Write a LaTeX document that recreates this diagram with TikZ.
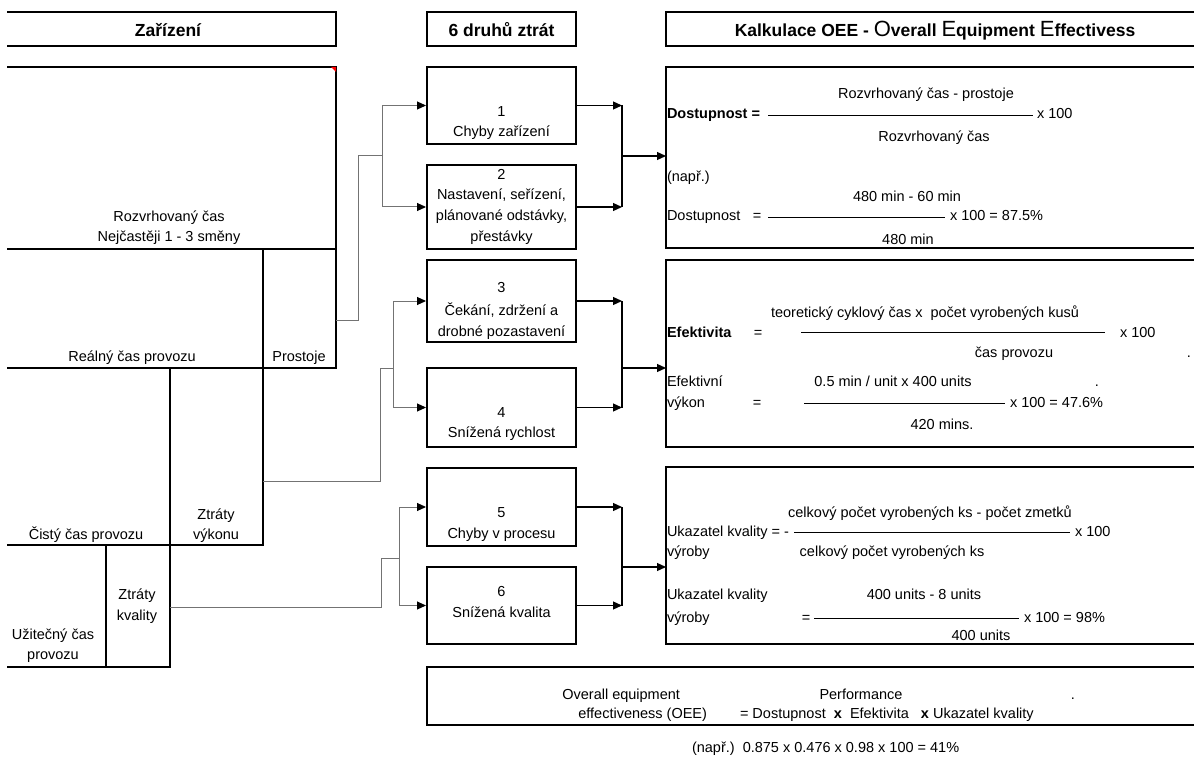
\documentclass[tikz,border=0pt]{standalone}
\usepackage{fontspec}
\setmainfont{Liberation Sans}
\usetikzlibrary{arrows.meta}
\newcommand\fs{\fontsize{14.5}{17}\selectfont}
\newcommand\fhead{\fontsize{17.5}{20}\selectfont\bfseries}
\newcommand\fbig{\fontsize{22}{24}\selectfont\mdseries}
\begin{document}
\begin{tikzpicture}[x=1pt,y=-1pt,
  frame/.style={line width=2pt,line cap=rect},
  split/.style={line width=1.7pt,line cap=rect},
  conn/.style={line width=1pt,draw=black!55},
  outc/.style={line width=1.2pt,draw=black},
  arr/.style={-{Triangle[length=9pt,width=8pt,color=black]}},
  lbl/.style={inner sep=0pt,outer sep=0pt,font=\fs,anchor=base},
  lw/.style={lbl,anchor=base west},
  le/.style={lbl,anchor=base east},
  lossbox/.style={draw,line width=2pt,minimum width=149pt,inner sep=0pt},
  calcbox/.style={inner sep=0pt,outer sep=0pt,minimum width=528pt},
  frac/.style={line width=0.9pt}]
\useasboundingbox (0,0) rectangle (1194,762);

% ---------- column headings ----------
\draw[frame] (8,12) -- (336,12) -- (336,46) -- (8,46);
\node[lbl,font=\fhead] (hzar) at (168,37) {Zařízení};
\node[lossbox,minimum height=34pt] (hloss) at (501.5,29) {};
\node[lbl,font=\fhead] (hlosst) at (501.5,37) {6 druhů ztrát};
\draw[frame] (1194,12) -- (666,12) -- (666,46) -- (1194,46);
\node[lbl,font=\fhead] (hcalc) at (935,37)
  {Kalkulace OEE - {\fbig O}verall {\fbig E}quipment {\fbig E}ffectivess};

% ---------- time breakdown of the equipment ----------
\draw[frame] (8,67) -- (336,67) -- (336,368);
\fill[red] (331,67) -- (336,67) -- (336,72) -- cycle;
\draw[frame] (8,249) -- (336,249);
\draw[frame] (8,368) -- (336,368);
\draw[split] (263,249) -- (263,545);
\draw[frame] (8,545) -- (263,545);
\draw[split] (170,368) -- (170,667);
\draw[frame] (8,667) -- (170,667);
\draw[split] (106,545) -- (106,667);

\node[lbl] (t1a) at (169,222) {Rozvrhovaný čas};
\node[lbl] (t1b) at (169,242) {Nejčastěji 1 - 3 směny};
\node[lbl] (t2) at (132,361) {Reálný čas provozu};
\node[lbl] (t3) at (299,361) {Prostoje};
\node[lbl] (t4a) at (216,519) {Ztráty};
\node[lbl] (t4b) at (216,539) {výkonu};
\node[lbl] (t5) at (86,539) {Čistý čas provozu};
\node[lbl] (t6a) at (137,599) {Ztráty};
\node[lbl] (t6b) at (137,620) {kvality};
\node[lbl] (t7a) at (53,639) {Užitečný čas};
\node[lbl] (t7b) at (53,659) {provozu};

% ---------- the six losses ----------
\node[lossbox,minimum height=77pt] (b1) at (501.5,105.5) {};
\node[lossbox,minimum height=84pt] (b2) at (501.5,207) {};
\node[lossbox,minimum height=82pt] (b3) at (501.5,301) {};
\node[lossbox,minimum height=79pt] (b4) at (501.5,407.5) {};
\node[lossbox,minimum height=78pt] (b5) at (501.5,507) {};
\node[lossbox,minimum height=77pt] (b6) at (501.5,605.5) {};

\node[lbl] (b1a) at (501.5,117) {1};
\node[lbl] (b1b) at (501.5,137) {Chyby zařízení};
\node[lbl] (b2a) at (501.5,180) {2};
\node[lbl] (b2b) at (501.5,200) {Nastavení, seřízení,};
\node[lbl] (b2c) at (501.5,221) {plánované odstávky,};
\node[lbl] (b2d) at (501.5,241) {přestávky};
\node[lbl] (b3a) at (501.5,292) {3};
\node[lbl] (b3b) at (501.5,315) {Čekání, zdržení a};
\node[lbl] (b3c) at (501.5,336) {drobné pozastavení};
\node[lbl] (b4a) at (501.5,417) {4};
\node[lbl] (b4b) at (501.5,437) {Snížená rychlost};
\node[lbl] (b5a) at (501.5,517) {5};
\node[lbl] (b5b) at (501.5,538) {Chyby v procesu};
\node[lbl] (b6a) at (501.5,596) {6};
\node[lbl] (b6b) at (501.5,617) {Snížená kvalita};

% ---------- feeds from the time breakdown ----------
\coordinate (p1) at (336,320);
\coordinate (k1) at (358,156);
\coordinate (j1) at (382,156);
\coordinate (p2) at (263,481);
\coordinate (k2) at (380,368);
\coordinate (j2) at (393,368);
\coordinate (p3) at (170,607);
\coordinate (k3) at (381,558);
\coordinate (j3) at (399,558);

\draw[conn] (p1) -| (k1) -- (j1);
\draw[conn,arr] (j1) |- (b1);
\draw[conn,arr] (j1) |- (b2);
\draw[conn] (p2) -| (k2) -- (j2);
\draw[conn,arr] (j2) |- (b3);
\draw[conn,arr] (j2) |- (b4);
\draw[conn] (p3) -| (k3) -- (j3);
\draw[conn,arr] (j3) |- (b5);
\draw[conn,arr] (j3) |- (b6);

% ---------- OEE calculation panels ----------
\node[calcbox,minimum height=181pt] (r1) at (930,157.5) {};
\node[calcbox,minimum height=187pt] (r2) at (930,353.5) {};
\node[calcbox,minimum height=177pt] (r3) at (930,555.5) {};
\node[inner sep=0pt,outer sep=0pt,minimum width=767pt,minimum height=58pt] (r4) at (810.5,696) {};
\foreach \r in {r1,r2,r3,r4}
  \draw[frame] (\r.north east) -- (\r.north west) -- (\r.south west) -- (\r.south east);

% ---------- losses into the panels ----------
\coordinate (o1) at (622,156);
\coordinate (o2) at (622,368);
\coordinate (o3) at (622,567);
\draw[outc,arr] (b1) -- (b1 -| o1);
\draw[outc,arr] (b2) -- (b2 -| o1);
\draw[outc] (b1 -| o1) -- (b2 -| o1);
\draw[outc,arr] (o1) -- (o1 -| r1.west);
\draw[outc,arr] (b3) -- (b3 -| o2);
\draw[outc,arr] (b4) -- (b4 -| o2);
\draw[outc] (b3 -| o2) -- (b4 -| o2);
\draw[outc,arr] (o2) -- (o2 -| r2.west);
\draw[outc,arr] (b5) -- (b5 -| o3);
\draw[outc,arr] (b6) -- (b6 -| o3);
\draw[outc] (b5 -| o3) -- (b6 -| o3);
\draw[outc,arr] (o3) -- (o3 -| r3.west);

% availability
\node[lbl] (d1) at (926,99) {Rozvrhovaný čas - prostoje};
\node[lw,font=\fs\bfseries] (d2) at (667,119) {Dostupnost =};
\draw[frac] (768,115) -- (1033,115);
\node[lw] (d3) at (1037,119) {x 100};
\node[lbl] (d4) at (934,142) {Rozvrhovaný čas};
\node[lw] (d5) at (667,182) {(např.)};
\node[lbl] (d6) at (907,202) {480 min - 60 min};
\node[lw] (d7) at (667,221) {Dostupnost};
\node[lbl] (d7e) at (757,221) {=};
\draw[frac] (768,217) -- (945,217);
\node[lw] (d8) at (950,221) {x 100 = 87.5\%};
\node[lbl] (d9) at (908,244) {480 min};

% performance
\node[lbl] (e1) at (925,317) {teoretický cyklový čas x\ \ počet vyrobených kusů};
\node[lw,font=\fs\bfseries] (e2) at (667,337) {Efektivita};
\node[lbl] (e2e) at (758,337) {=};
\draw[frac] (801,332) -- (1105,332);
\node[lw] (e3) at (1120,337) {x 100};
\node[lbl] (e4) at (1014,357) {čas provozu};
\node[lbl] (e4d) at (1189,357) {.};
\node[lw] (e5) at (667,386) {Efektivní};
\node[lbl] (e6) at (893,386) {0.5 min / unit x\ 400 units};
\node[lbl] (e6d) at (1097,386) {.};
\node[lw] (e7) at (667,407) {výkon};
\node[lbl] (e7e) at (757,407) {=};
\draw[frac] (804,403) -- (1005,403);
\node[lw] (e8) at (1010,407) {x 100 = 47.6\%};
\node[lbl] (e9) at (942,429) {420 mins.};

% quality
\node[lbl] (q1) at (930,517) {celkový počet vyrobených ks - počet zmetků};
\node[lw] (q2) at (667,536) {Ukazatel kvality = -};
\draw[frac] (794,532) -- (1070,532);
\node[lw] (q3) at (1075,536) {x 100};
\node[lw] (q4) at (667,556) {výroby};
\node[lbl] (q5) at (892,556) {celkový počet vyrobených ks};
\node[lw] (q6) at (667,599) {Ukazatel kvality};
\node[lbl] (q7) at (924,599) {400 units - 8 units};
\node[lw] (q8) at (667,622) {výroby};
\node[lbl] (q8e) at (806,622) {=};
\draw[frac] (814,618) -- (1019,618);
\node[lw] (q9) at (1024,622) {x 100 = 98\%};
\node[lbl] (q10) at (981,640) {400 units};

% overall equipment effectiveness
\node[le] (g1) at (680,699) {Overall equipment};
\node[lbl] (g2) at (861,699) {Performance};
\node[lbl] (g2d) at (1073,699) {.};
\node[le] (g3) at (707,718) {effectiveness (OEE)};
\node[lw] (g4) at (740,718) {=\ Dostupnost\ \ \textbf{x}\ \ Efektivita\ \ \ \textbf{x} Ukazatel kvality};
\node[lw] (g5) at (692,752) {(např.)\ \ 0.875 x 0.476 x 0.98 x 100 = 41\%};
\end{tikzpicture}
\end{document}
